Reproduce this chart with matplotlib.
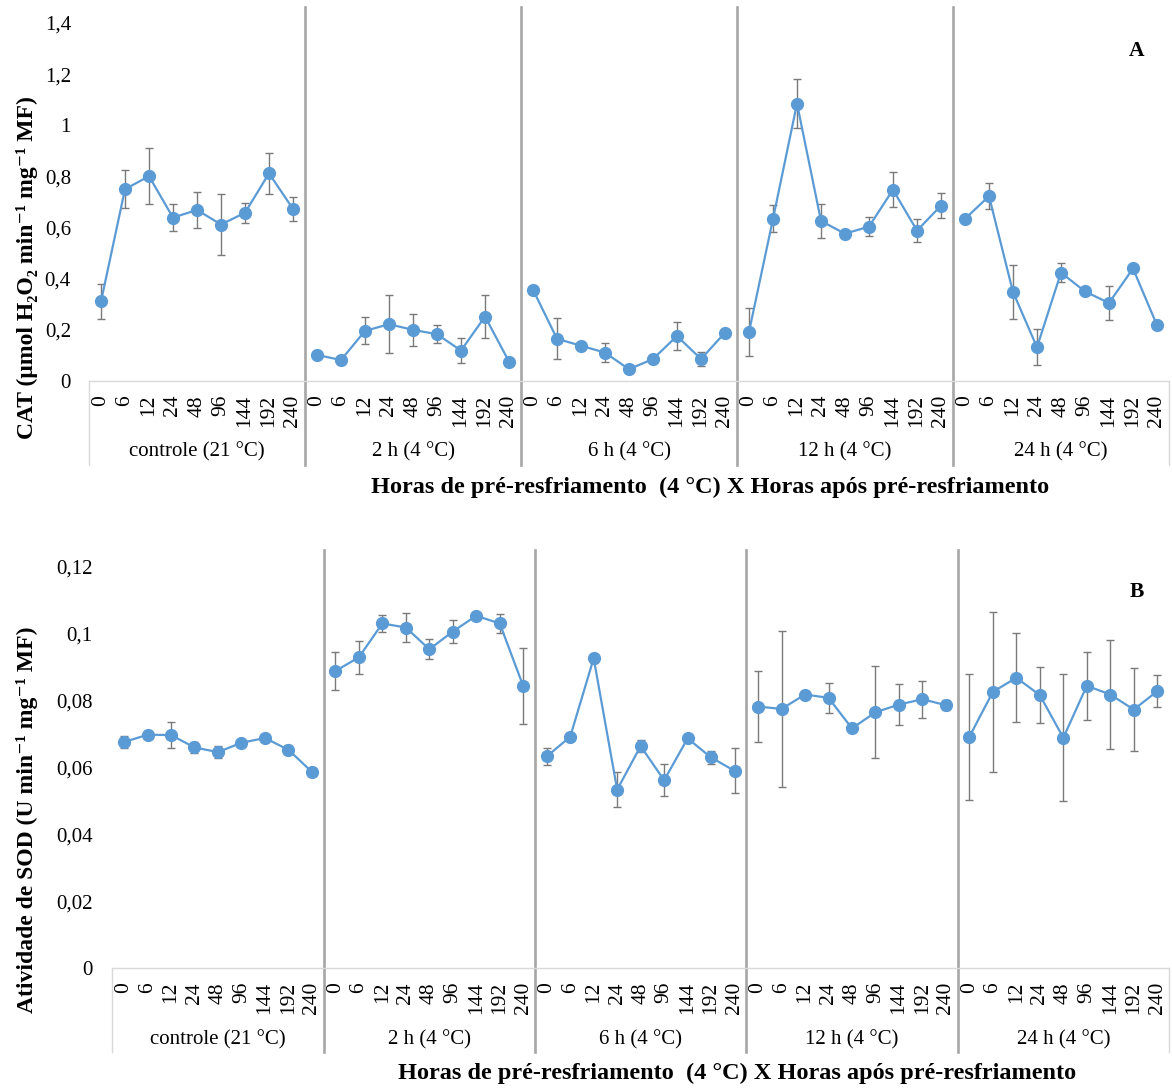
import matplotlib
matplotlib.use("Agg")
import matplotlib.pyplot as plt
from matplotlib.transforms import blended_transform_factory

plt.rcParams['font.family'] = ['Liberation Serif', 'DejaVu Serif']

hours = ["0", "6", "12", "24", "48", "96", "144", "192", "240"]
groups = ["controle (21 °C)", "2 h (4 °C)", "6 h (4 °C)", "12 h (4 °C)", "24 h (4 °C)"]

# CAT, one row per pre-cooling treatment
cat_mean = [
    [0.311, 0.750, 0.801, 0.639, 0.669, 0.612, 0.658, 0.812, 0.673],
    [0.102, 0.082, 0.196, 0.222, 0.200, 0.183, 0.119, 0.252, 0.076],
    [0.357, 0.165, 0.138, 0.111, 0.046, 0.086, 0.176, 0.086, 0.189],
    [0.192, 0.634, 1.085, 0.626, 0.576, 0.604, 0.748, 0.588, 0.686],
    [0.634, 0.723, 0.348, 0.132, 0.424, 0.350, 0.305, 0.440, 0.218],
]
cat_err = [
    [0.068, 0.075, 0.110, 0.052, 0.070, 0.120, 0.040, 0.080, 0.048],
    [0.0, 0.0, 0.053, 0.114, 0.062, 0.035, 0.050, 0.083, 0.0],
    [0.0, 0.080, 0.0, 0.038, 0.015, 0.016, 0.053, 0.028, 0.010],
    [0.093, 0.053, 0.095, 0.068, 0.0, 0.038, 0.069, 0.045, 0.049],
    [0.0, 0.052, 0.105, 0.071, 0.037, 0.0, 0.068, 0.0, 0.0],
]

# SOD
sod_mean = [
    [0.0675, 0.0697, 0.0696, 0.0659, 0.0645, 0.0673, 0.0687, 0.0652, 0.0586],
    [0.0887, 0.0928, 0.1029, 0.1017, 0.0952, 0.1005, 0.1052, 0.1029, 0.0842],
    [0.0632, 0.0691, 0.0925, 0.0533, 0.0663, 0.0561, 0.0686, 0.0629, 0.0589],
    [0.0781, 0.0774, 0.0817, 0.0807, 0.0716, 0.0764, 0.0787, 0.0803, 0.0785],
    [0.0691, 0.0825, 0.0867, 0.0815, 0.0688, 0.0843, 0.0817, 0.0772, 0.0827],
]
sod_err = [
    [0.0019, 0.0010, 0.0040, 0.0017, 0.0018, 0.0008, 0.0, 0.0013, 0.0013],
    [0.0056, 0.0050, 0.0026, 0.0043, 0.0030, 0.0033, 0.0, 0.0028, 0.0113],
    [0.0024, 0.0, 0.0014, 0.0052, 0.0017, 0.0048, 0.0, 0.0020, 0.0067],
    [0.0107, 0.0234, 0.0008, 0.0045, 0.0, 0.0137, 0.0060, 0.0055, 0.0015],
    [0.0188, 0.0238, 0.0133, 0.0084, 0.0190, 0.0101, 0.0164, 0.0125, 0.0048],
]

W, H = 1172, 1088
BLUE = "#5B9BD5"
XTITLE = "Horas de pré-resfriamento  (4 °C) X Horas após pré-resfriamento"


def add_panel(fig, box, means, errs, ymax, yticks, yticklabels, sep_top, box_bot, group_y,
              ylabel, ylabel_y, title_x, title_y, ypad):
    left, right, y0, ytop = box
    ax = fig.add_axes([left / W, 1 - y0 / H, (right - left) / W, (y0 - ytop) / H])
    n = len(hours)
    for g, (m, e) in enumerate(zip(means, errs)):
        xs = [g * n + i for i in range(n)]
        ax.errorbar(xs, m, yerr=e, fmt="none", ecolor="#7a7a7a", elinewidth=1.0,
                    capsize=3, capthick=1.0, zorder=2)
        ax.plot(xs, m, "-o", color=BLUE, lw=1.6, ms=8.5, zorder=3)

    ax.set_xlim(-0.5, len(groups) * n - 0.5)
    ax.set_ylim(0, ymax)
    ax.set_yticks(yticks)
    ax.set_yticklabels(yticklabels, fontsize=15)
    ax.set_xticks(range(len(groups) * n))
    ax.set_xticklabels(hours * len(groups), rotation=90, fontsize=15.5)
    ax.tick_params(axis="both", length=0)
    ax.tick_params(axis="x", pad=10)
    ax.tick_params(axis="y", pad=ypad)
    for s in ["left", "right", "top"]:
        ax.spines[s].set_visible(False)
    ax.spines["bottom"].set_color("#d9d9d9")
    ax.spines["bottom"].set_linewidth(1.0)

    tr = blended_transform_factory(ax.transData, ax.transAxes)
    span = y0 - ytop
    # light frame around the category labels
    for xb in [-0.5, len(groups) * n - 0.5]:
        ax.plot([xb, xb], [0, (y0 - box_bot) / span], color="#d9d9d9", lw=1.0,
                transform=tr, clip_on=False)
    # group separators
    for g in range(1, len(groups)):
        xb = g * n - 0.5
        ax.plot([xb, xb], [(y0 - box_bot) / span, (y0 - sep_top) / span], color="#a6a6a6",
                lw=1.9, transform=tr, clip_on=False, zorder=1)
    for g, name in enumerate(groups):
        ax.text(g * n + (n - 1) / 2, (y0 - group_y) / span, name, transform=tr,
                ha="center", va="center", fontsize=15)

    fig.text(27 / W, 1 - ylabel_y / H, ylabel, rotation=90, ha="center", va="center",
             fontsize=17, fontweight="bold")
    fig.text(title_x / W, 1 - title_y / H, XTITLE,
             ha="center", va="center", fontsize=17.5, fontweight="bold")
    return ax


fig = plt.figure(figsize=(W / 100, H / 100), dpi=100)

add_panel(fig, (89, 1169, 381, 23), cat_mean, cat_err, 1.4,
          [0, 0.2, 0.4, 0.6, 0.8, 1.0, 1.2, 1.4],
          ["0", "0,2", "0,4", "0,6", "0,8", "1", "1,2", "1,4"],
          sep_top=7, box_bot=465, group_y=452,
          ylabel="CAT (μmol H₂O₂ min⁻¹ mg⁻¹ MF)", ylabel_y=268,
          title_x=710, title_y=487, ypad=13)
fig.text(1137 / W, 1 - 51 / H, "A", ha="center", va="center", fontsize=15.5, fontweight="bold")

add_panel(fig, (112.3, 1169, 968.2, 566.2), sod_mean, sod_err, 0.12,
          [0, 0.02, 0.04, 0.06, 0.08, 0.10, 0.12],
          ["0", "0,02", "0,04", "0,06", "0,08", "0,1", "0,12"],
          sep_top=550, box_bot=1052, group_y=1040,
          ylabel="Atividade de SOD (U min⁻¹ mg⁻¹ MF)", ylabel_y=820,
          title_x=737, title_y=1073, ypad=14)
fig.text(1137 / W, 1 - 592 / H, "B", ha="center", va="center", fontsize=15.5, fontweight="bold")

fig.savefig("out.png", dpi=100, facecolor="white")
